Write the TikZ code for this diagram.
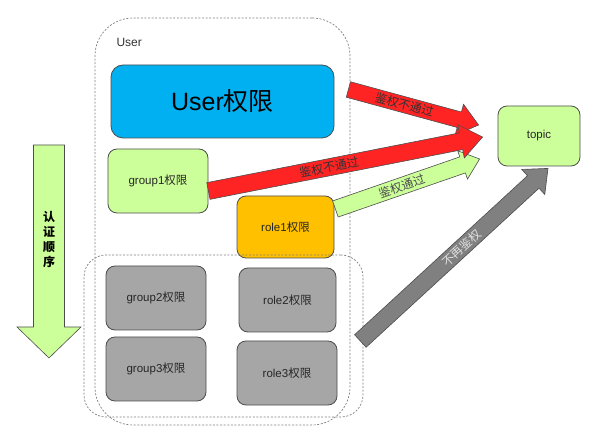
\documentclass[tikz,border=0pt]{standalone}
\usepackage{fontspec}
\setmainfont{Liberation Sans}
\newfontfamily\cjk{Noto Sans CJK SC}
\usetikzlibrary{calc}
\definecolor{userblue}{HTML}{00B0F0}
\definecolor{permgreen}{HTML}{CCFF99}
\definecolor{roleorange}{HTML}{FFC000}
\definecolor{permgray}{HTML}{A6A6A6}
\definecolor{denyred}{HTML}{FF2424}
\definecolor{skipgray}{HTML}{808080}
\definecolor{edgegray}{HTML}{4D4D4D}
\tikzset{
  line join=round,
  permbox/.style={draw=edgegray, line width=0.8pt, rounded corners=9pt, minimum width=100pt, minimum height=64pt, inner sep=0pt, align=center, text=black!85, font=\fontsize{11.5}{13}\selectfont},
  container/.style={draw=gray, dash pattern=on 2pt off 1.6pt, line width=0.7pt, inner sep=0pt},
  redarrow/.style={draw=edgegray, line width=0.6pt, fill=denyred},
  redarrow label/.style={text=black!80, font=\cjk\fontsize{12}{12}\selectfont},
  greenarrow/.style={draw=edgegray, line width=0.6pt, fill=permgreen},
  greenarrow label/.style={text=black!70, font=\cjk\fontsize{12}{12}\selectfont},
  grayarrow/.style={draw=edgegray, line width=0.6pt, fill=skipgray},
  grayarrow label/.style={text=white!88!black, font=\cjk\fontsize{12}{12}\selectfont},
}
% block arrow: tail, tip, style, half shaft, half head, head length, label pos, label
\newcommand{\bigarrow}[8]{%
  \path let \p1=($(#2)-(#1)$) in \pgfextra{%
    \pgfmathsetmacro\arlen{veclen(\x1,\y1)}%
    \pgfmathsetmacro\arang{atan2(\y1,\x1)}%
    \global\let\arlen\arlen \global\let\arang\arang};
  \begin{scope}[shift={(#1)}, rotate=\arang, x=1pt, y=1pt]
    \draw[#3] (0,-#4) -- (\arlen-#6,-#4) -- (\arlen-#6,-#5) -- (\arlen,0)
      -- (\arlen-#6,#5) -- (\arlen-#6,#4) -- (0,#4) -- cycle;
    \node[#3 label, rotate=\arang] at (#7*\arlen,0) {#8};
  \end{scope}}

\begin{document}
\begin{tikzpicture}[x=1pt, y=-1pt]
    \useasboundingbox (0,0) rectangle (592,430);

    % User 外框
    \node[container, rounded corners=38pt, minimum width=255pt, minimum height=407pt] (userbox) at (222.5,221.5) {};
    \node[anchor=west, text=black!80, font=\fontsize{12}{14}\selectfont] (userlabel) at (113,42) {User};

    % 权限
    \node[permbox, fill=userblue, minimum width=223pt, minimum height=73pt, rounded corners=12pt, font=\fontsize{25}{28}\selectfont, text=black] (userperm) at (222.5,101.5) {User{\cjk 权限}};
    \node[permbox, fill=permgreen] (group1) at (158,181) {group1{\cjk 权限}};
    \node[permbox, fill=roleorange, minimum width=97pt, minimum height=62pt] (role1) at (285.5,227) {role1{\cjk 权限}};

    % 不再鉴权的部分
    \node[container, rounded corners=22pt, minimum width=279pt, minimum height=162pt] (innerbox) at (223.5,336) {};
    \node[permbox, fill=permgray] (group2) at (156,298) {group2{\cjk 权限}};
    \node[permbox, fill=permgray, minimum width=97pt] (role2) at (287.5,300) {role2{\cjk 权限}};
    \node[permbox, fill=permgray] (group3) at (156,369) {group3{\cjk 权限}};
    \node[permbox, fill=permgray] (role3) at (287,373) {role3{\cjk 权限}};

    \node[permbox, fill=permgreen, minimum width=82pt, minimum height=60pt] (topic) at (539,136) {topic};

    % 箭头端点
    \coordinate (r1tail) at ($(userperm.east)+(14,-12)$);
    \coordinate (r1tip) at ($(topic.west)+(-19,-11)$);
    \coordinate (r2tail) at ($(group1.east)+(0,10)$);
    \coordinate (r2tip) at ($(topic.west)+(-15,1)$);
    \coordinate (gtail) at ($(role1.east)+(1,-18)$);
    \coordinate (gtip) at ($(topic.west)+(-18,23)$);
    \coordinate (stail) at ($(innerbox.east)+(-3,5)$);
    \coordinate (stip) at ($(topic.south)+(9,2)$);
    \coordinate (ordtop) at (49,145);
    \coordinate (ordtip) at (49,358);

    \bigarrow{gtail}{gtip}{greenarrow}{8.5}{15}{18}{0.46}{{\cjk 鉴权通过}}
    \bigarrow{stail}{stip}{grayarrow}{8.5}{17}{20}{0.54}{{\cjk 不再鉴权}}
    \bigarrow{r1tail}{r1tip}{redarrow}{8}{16}{20}{0.43}{{\cjk 鉴权不通过}}
    \bigarrow{r2tail}{r2tip}{redarrow}{8.5}{17}{22}{0.44}{{\cjk 鉴权不通过}}

    % 认证顺序
    \bigarrow{ordtop}{ordtip}{greenarrow}{15.5}{32}{31}{0.5}{}
    \node[align=center, font=\cjk\bfseries\fontsize{12}{15}\selectfont] (ordertext) at (49,240) {认\\证\\顺\\序};
\end{tikzpicture}
\end{document}
